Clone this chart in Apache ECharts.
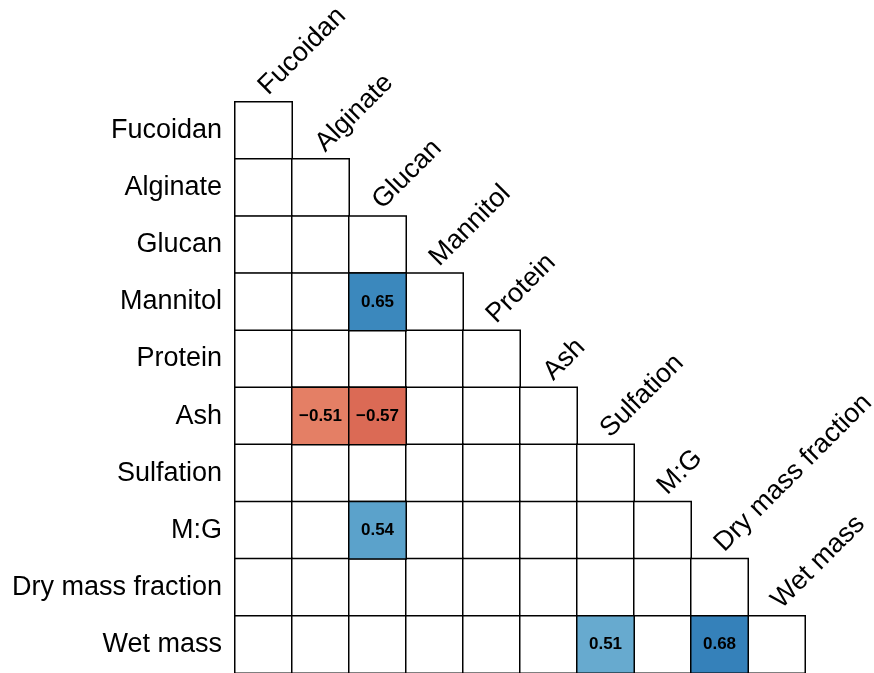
<!DOCTYPE html>
<html>
<head>
<meta charset="utf-8">
<script src="https://cdn.jsdelivr.net/npm/echarts@6/dist/echarts.min.js"></script>
<style>html,body{margin:0;padding:0;background:#fff}#c{width:874px;height:673px}</style>
</head>
<body>
<div id="c"></div>
<script>
var variables = ['Fucoidan','Alginate','Glucan','Mannitol','Protein','Ash','Sulfation','M:G','Dry mass fraction','Wet mass'];
// significant correlations (row variable index, column variable index, value)
var sigRows = [3, 5, 5, 7, 9, 9];
var sigCols = [2, 1, 2, 2, 6, 8];
var sigValues = [0.65, -0.51, -0.57, 0.54, 0.51, 0.68];
var rdbu = ['#67001f','#b2182b','#d6604d','#f4a582','#fddbc7','#f7f7f7','#d1e5f0','#92c5de','#4393c3','#2166ac','#053061'];

var bgCells = [];
for (var r = 0; r < variables.length; r++) {
  for (var c = 0; c <= r; c++) bgCells.push([c, r, 0]);
}
var sigCells = sigValues.map(function (v, i) { return [sigCols[i], sigRows[i], v]; });
var diag = variables.map(function (v, i) { return [i, i]; });

var chart = echarts.init(document.getElementById('c'), null, {renderer: 'canvas'});
var FONT = 'Liberation Sans, Arial, sans-serif';
chart.setOption({
  animation: false,
  grid: {left: 235, top: 102, width: 570, height: 571},
  xAxis: {type: 'category', data: variables, show: false},
  yAxis: {
    type: 'category', data: variables, inverse: true,
    axisLine: {show: false}, axisTick: {show: false}, splitLine: {show: false},
    axisLabel: {color: '#000', fontSize: 27, fontFamily: FONT, margin: 13}
  },
  visualMap: {
    show: false, type: 'continuous', min: -1, max: 1, seriesIndex: 1, dimension: 2,
    inRange: {color: rdbu}
  },
  series: [
    {
      type: 'heatmap', data: bgCells,
      itemStyle: {color: '#ffffff', borderColor: '#000', borderWidth: 1.5},
      label: {show: false}, emphasis: {disabled: true}
    },
    {
      type: 'heatmap', data: sigCells,
      itemStyle: {borderColor: '#000', borderWidth: 1.5},
      label: {show: true, color: '#000', fontWeight: 'bold', fontSize: 17, fontFamily: FONT,
        formatter: function (p) { return p.value[2].toFixed(2).replace('-', '\u2212'); }},
      emphasis: {disabled: true}
    },
    {
      type: 'custom', data: diag, silent: true,
      renderItem: function (params, api) {
        var pt = api.coord([api.value(0), api.value(1)]);
        var sz = api.size([1, 1]);
        return {
          type: 'text', x: pt[0] + 9, y: pt[1] - sz[1] / 2 - 2, rotation: Math.PI / 4,
          style: {text: variables[params.dataIndex], font: '27px ' + FONT, fill: '#000',
            textAlign: 'left', textVerticalAlign: 'bottom'}
        };
      }
    }
  ]
});
</script>
</body>
</html>
